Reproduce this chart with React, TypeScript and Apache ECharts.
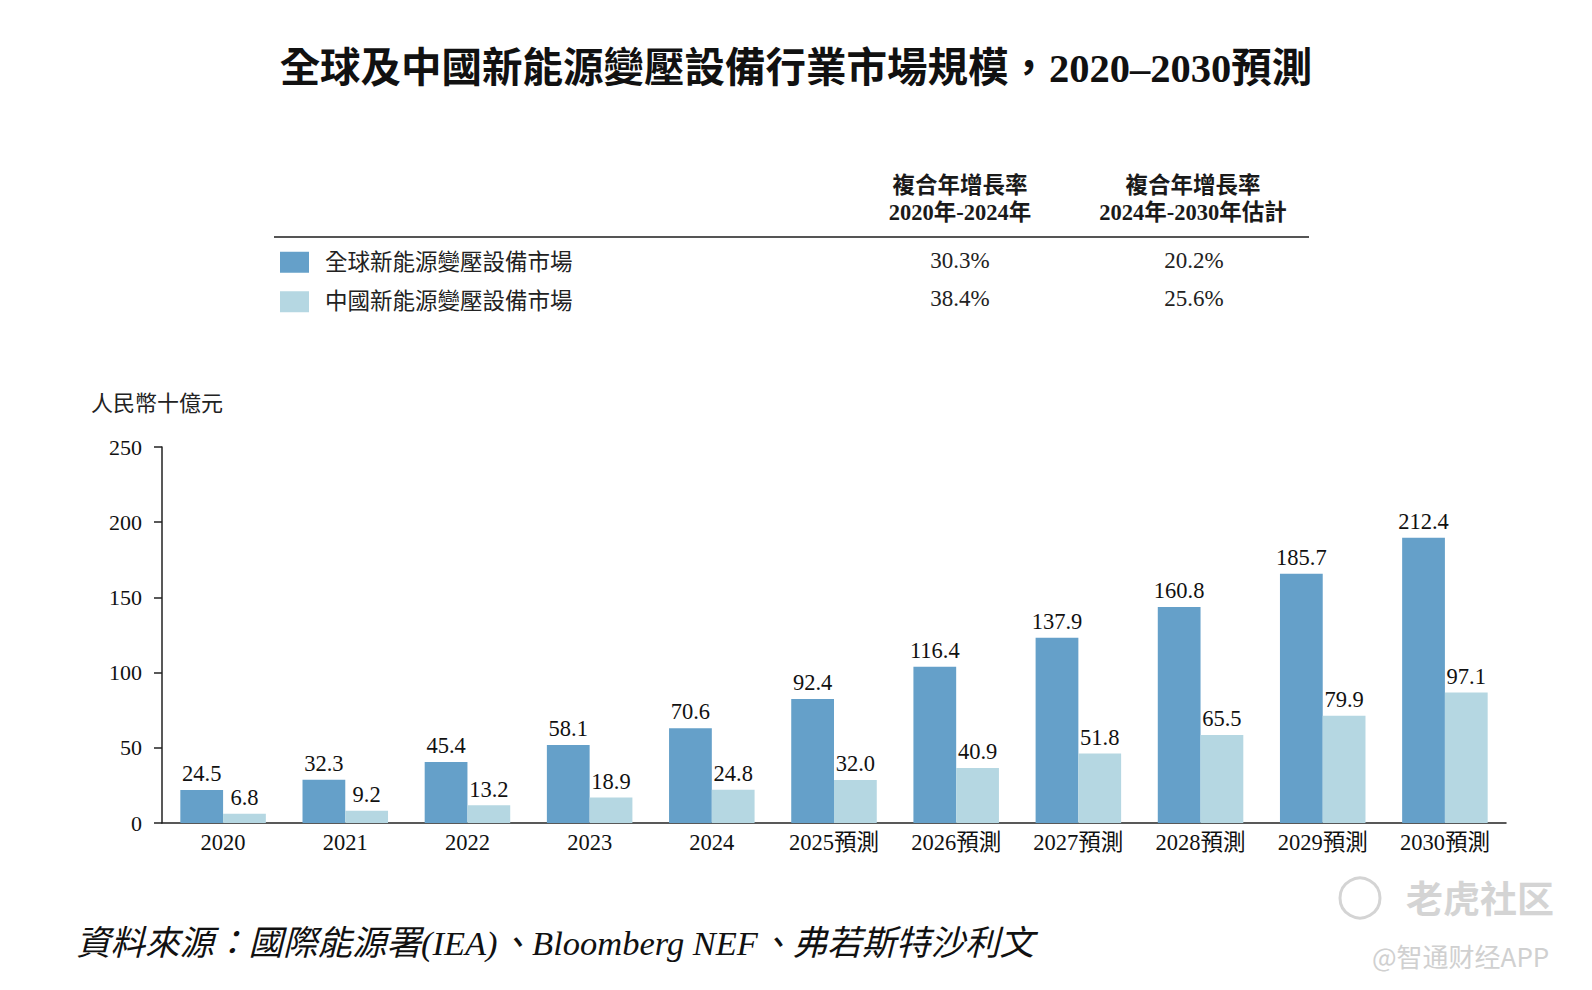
import React, { useEffect, useRef } from "react";
import * as echarts from "echarts";

const categories = ["2020", "2021", "2022", "2023", "2024", "2025預測", "2026預測", "2027預測", "2028預測", "2029預測", "2030預測"];
const globalValues = [24.5, 32.3, 45.4, 58.1, 70.6, 92.4, 116.4, 137.9, 160.8, 185.7, 212.4];
const chinaValues = [6.8, 9.2, 13.2, 18.9, 24.8, 32.0, 40.9, 51.8, 65.5, 79.9, 97.1];
const seriesNames = ["全球新能源變壓設備市場", "中國新能源變壓設備市場"];
const cagr2020to2024 = ["30.3%", "38.4%"];
const cagr2024to2030 = ["20.2%", "25.6%"];
const headerCol1 = ["複合年增長率", "2020年-2024年"];
const headerCol2 = ["複合年增長率", "2024年-2030年估計"];
const yTicks = { min: 0, max: 250, interval: 50 };

const SERIF = "'Liberation Serif', 'Noto Sans CJK TC', serif";
const DARK = "#65a0c9";
const LIGHT = "#b5d7e2";

export default function App() {
  const ref = useRef<HTMLDivElement>(null);
  useEffect(() => {
    document.body.style.margin = "0";
    const chart = echarts.init(ref.current!, undefined, { renderer: "svg" });
    const rowY = [260, 298];
    const graphics: any[] = [
      // header
      ...headerCol1.map((t, i) => ({
        type: "text", x: 960, y: 185 + i * 27,
        style: { text: t, font: `bold 22.5px ${SERIF}`, fill: "#1a1a1a", align: "center", verticalAlign: "middle" },
      })),
      ...headerCol2.map((t, i) => ({
        type: "text", x: 1193, y: 185 + i * 27,
        style: { text: t, font: `bold 22.5px ${SERIF}`, fill: "#1a1a1a", align: "center", verticalAlign: "middle" },
      })),
      { type: "line", shape: { x1: 274, y1: 237, x2: 1309, y2: 237 }, style: { stroke: "#555", lineWidth: 2 } },
      ...cagr2020to2024.map((t, i) => ({
        type: "text", x: 960, y: rowY[i],
        style: { text: t, font: `23px ${SERIF}`, fill: "#222", align: "center", verticalAlign: "middle" },
      })),
      ...cagr2024to2030.map((t, i) => ({
        type: "text", x: 1194, y: rowY[i],
        style: { text: t, font: `23px ${SERIF}`, fill: "#222", align: "center", verticalAlign: "middle" },
      })),
      // unit
      {
        type: "text", x: 91, y: 403,
        style: { text: "人民幣十億元", font: `22px ${SERIF}`, fill: "#222", align: "left", verticalAlign: "middle" },
      },
      // source
      {
        type: "text", x: 76, y: 943,
        style: {
          text: "資料來源：國際能源署(IEA)、Bloomberg NEF、弗若斯特沙利文",
          font: `italic 34.5px ${SERIF}`, fill: "#111", align: "left", verticalAlign: "middle",
        },
      },
      // watermark
      { type: "circle", shape: { cx: 1360, cy: 898, r: 20 }, style: { fill: "none", stroke: "#d4d4d4", lineWidth: 3 } },
      {
        type: "text", x: 1406, y: 897,
        style: { text: "老虎社区", font: "bold 37px 'Noto Sans CJK SC'", fill: "#d4d4d4", align: "left", verticalAlign: "middle" },
      },
      {
        type: "text", x: 1372, y: 955,
        style: { text: "@智通财经APP", font: "26px 'Noto Sans CJK SC'", fill: "#d0d0d0", align: "left", verticalAlign: "middle" },
      },
    ];

    chart.setOption({
      animation: false,
      backgroundColor: "#ffffff",
      title: {
        text: "全球及中國新能源變壓設備行業市場規模，2020–2030預測",
        left: "center",
        top: 43,
        textStyle: { fontFamily: SERIF, fontWeight: "bold", fontSize: 40.5, color: "#111" },
      },
      legend: {
        orient: "vertical",
        left: 275,
        top: 246,
        itemWidth: 29,
        itemHeight: 21,
        itemGap: 17,
        icon: "rect",
        data: seriesNames,
        selectedMode: false,
        textStyle: { fontFamily: SERIF, fontSize: 22.5, color: "#222", padding: [0, 0, 0, 11] },
      },
      grid: { left: 162, right: 86, top: 447, bottom: 167, containLabel: false },
      xAxis: {
        type: "category",
        data: categories,
        axisLine: { lineStyle: { color: "#222", width: 1.5 } },
        axisTick: { show: false },
        axisLabel: { fontFamily: SERIF, fontSize: 22.5, color: "#111", margin: 8, interval: 0 },
      },
      yAxis: [
        {
          type: "value",
          min: yTicks.min,
          max: yTicks.max,
          interval: yTicks.interval,
          axisLine: { show: true, lineStyle: { color: "#222", width: 1.5 } },
          axisTick: { show: true, length: 8, lineStyle: { color: "#222", width: 1.5 } },
          splitLine: { show: false },
          axisLabel: { fontFamily: SERIF, fontSize: 22, color: "#111", margin: 20 },
        },
        { type: "value", min: 0, max: 280, show: false, splitLine: { show: false } },
      ],
      series: [
        {
          name: seriesNames[0], type: "bar", yAxisIndex: 1, data: globalValues,
          itemStyle: { color: DARK }, barGap: "0%", barCategoryGap: "30%",
          label: { show: true, position: "top", distance: 5, fontFamily: SERIF, fontSize: 22.5, color: "#111", formatter: (p: any) => p.value.toFixed(1) },
        },
        {
          name: seriesNames[1], type: "bar", yAxisIndex: 1, data: chinaValues,
          itemStyle: { color: LIGHT }, barGap: "0%", barCategoryGap: "30%",
          label: { show: true, position: "top", distance: 5, fontFamily: SERIF, fontSize: 22.5, color: "#111", formatter: (p: any) => p.value.toFixed(1) },
        },
      ],
      graphic: graphics,
    });
    return () => chart.dispose();
  }, []);
  return <div ref={ref} style={{ width: 1592, height: 990 }} />;
}
